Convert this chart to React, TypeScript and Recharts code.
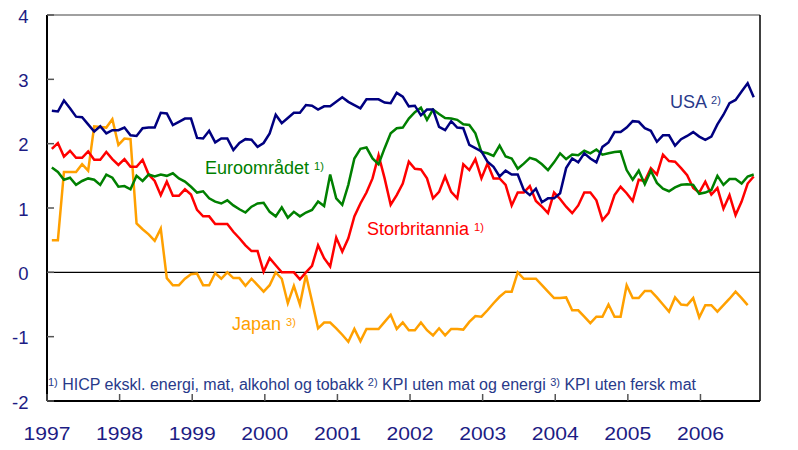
import React from 'react';
import { LineChart, Line, XAxis, YAxis, ReferenceLine } from 'recharts';

// monthly core inflation, Jan 1997 - Sep 2006 (Japan to Aug 2006)
const startYear = 1997;
const yearTicks = [1997, 1998, 1999, 2000, 2001, 2002, 2003, 2004, 2005, 2006];
const valueTicks = [-2, -1, 0, 1, 2, 3, 4];

const usa = [
  2.51, 2.5, 2.67, 2.55, 2.42, 2.41, 2.3, 2.19, 2.27, 2.16, 2.21, 2.21,
  2.25, 2.13, 2.12, 2.24, 2.25, 2.25, 2.48, 2.47, 2.29, 2.34, 2.39, 2.39,
  2.09, 2.08, 2.2, 2.02, 2.08, 2.08, 1.9, 2.01, 2.07, 2.06, 1.95, 2.01,
  2.16, 2.45, 2.32, 2.4, 2.48, 2.48, 2.6, 2.59, 2.53, 2.58, 2.58, 2.65,
  2.72, 2.65, 2.6, 2.55, 2.69, 2.69, 2.69, 2.64, 2.63, 2.79, 2.73, 2.58,
  2.59, 2.44, 2.53, 2.53, 2.26, 2.21, 2.35, 2.25, 2.24, 1.98, 1.93, 1.88,
  1.72, 1.64, 1.49, 1.58, 1.52, 1.52, 1.28, 1.2, 1.3, 1.09, 1.15, 1.15,
  1.23, 1.62, 1.77, 1.71, 1.85, 1.77, 1.71, 1.95, 2.02, 2.18, 2.18, 2.25,
  2.35, 2.34, 2.24, 2.2, 2.03, 2.13, 2.13, 1.97, 2.07, 2.12, 2.18, 2.11,
  2.06, 2.11, 2.3, 2.45, 2.63, 2.68, 2.81, 2.94, 2.72,
];

const euro = [
  1.63, 1.56, 1.44, 1.47, 1.36, 1.42, 1.46, 1.44, 1.36, 1.52, 1.47, 1.33,
  1.34, 1.29, 1.5, 1.42, 1.52, 1.49, 1.52, 1.5, 1.54, 1.46, 1.41, 1.33,
  1.24, 1.26, 1.15, 1.1, 1.07, 1.12, 1.04, 0.98, 0.93, 1.02, 1.07, 1.08,
  0.94, 0.87, 1.01, 0.85, 0.94, 0.87, 0.93, 0.97, 1.1, 1.03, 1.52, 1.15,
  1.05, 1.36, 1.77, 1.92, 1.94, 1.77, 1.68, 1.93, 2.16, 2.24, 2.25, 2.39,
  2.49, 2.56, 2.37, 2.53, 2.46, 2.4, 2.39, 2.37, 2.3, 2.29, 2.16, 1.87,
  1.85, 1.81, 1.97, 1.8, 1.77, 1.61, 1.69, 1.78, 1.75, 1.68, 1.59, 1.71,
  1.85, 1.76, 1.83, 1.82, 1.89, 1.85, 1.91, 1.83, 1.85, 1.87, 1.88, 1.59,
  1.44, 1.58, 1.37, 1.58, 1.39, 1.3, 1.26, 1.32, 1.36, 1.37, 1.36, 1.22,
  1.24, 1.28, 1.5, 1.36, 1.45, 1.45, 1.38, 1.49, 1.52,
];

const uk = [
  1.92, 2.01, 1.8, 1.89, 1.78, 1.78, 1.88, 1.75, 1.75, 1.87, 1.76, 1.67,
  1.76, 1.64, 1.64, 1.75, 1.52, 1.42, 1.2, 1.41, 1.19, 1.19, 1.29, 1.21,
  0.97, 0.87, 0.87, 0.75, 0.75, 0.75, 0.63, 0.53, 0.42, 0.33, 0.33, 0.01,
  0.22, 0.11, 0, 0, 0, -0.11, 0, 0.1, 0.42, 0.22, 0.09, 0.54,
  0.32, 0.53, 0.87, 1.07, 1.24, 1.46, 1.82, 1.46, 1.05, 1.2, 1.38, 1.72,
  1.61, 1.6, 1.46, 1.15, 1.25, 1.49, 1.25, 1.15, 1.68, 1.59, 1.76, 1.46,
  1.69, 1.46, 1.46, 1.36, 1.04, 1.24, 1.24, 1.34, 1.11, 1.02, 0.92, 1.24,
  1.14, 1.02, 0.92, 1.04, 1.24, 1.24, 1.12, 0.81, 0.92, 1.2, 1.33, 1.23,
  1.11, 1.44, 1.42, 1.62, 1.52, 1.83, 1.73, 1.72, 1.62, 1.51, 1.31, 1.24,
  1.41, 1.21, 1.31, 0.99, 1.2, 0.89, 1.1, 1.38, 1.49,
];

const japan = [
  0.5, 0.5, 1.56, 1.56, 1.56, 1.68, 1.58, 2.27, 2.26, 2.25, 2.38, 1.98,
  2.08, 2.07, 0.76, 0.67, 0.59, 0.49, 0.68, -0.09, -0.2, -0.2, -0.1, -0.03,
  -0.02, -0.2, -0.2, -0.01, -0.1, 0, -0.09, -0.09, -0.21, -0.1, -0.2, -0.3,
  -0.2, 0, -0.1, -0.48, -0.21, -0.5, -0.04, -0.45, -0.87, -0.78, -0.78, -0.87,
  -0.97, -1.08, -0.88, -1.07, -0.88, -0.88, -0.88, -0.77, -0.66, -0.88, -0.78, -0.9,
  -0.9, -0.78, -0.9, -0.98, -0.87, -0.98, -0.88, -0.88, -0.89, -0.77, -0.68, -0.69,
  -0.59, -0.48, -0.38, -0.3, -0.3, 0, -0.1, -0.1, -0.1, -0.2, -0.3, -0.4,
  -0.4, -0.39, -0.59, -0.59, -0.69, -0.79, -0.69, -0.69, -0.5, -0.69, -0.69, -0.2,
  -0.4, -0.4, -0.29, -0.29, -0.39, -0.5, -0.61, -0.39, -0.5, -0.51, -0.4, -0.7,
  -0.51, -0.51, -0.61, -0.51, -0.41, -0.3, -0.4, -0.51,
];

const data = usa.map((v, i) => ({
  x: startYear + (i + 0.8) / 12,
  usa: v,
  euro: euro[i],
  uk: uk[i],
  japan: japan[i],
}));

const axisColor = '#1c1c84';
const noteColor = '#283a8a';
const textFont = '"Liberation Sans", Arial, sans-serif';

const LeftTick = (props: any) => {
  const { x, y, payload } = props;
  return (
    <g>
      <line x1={x} x2={x + 7} y1={y} y2={y} stroke="#555" strokeWidth={1.5} />
      <text x={x - 18.5} y={y + 7.6} textAnchor="end" fontSize={18.5} fontFamily={textFont} fill={axisColor}>
        {payload.value}
      </text>
    </g>
  );
};

const RightTick = (props: any) => {
  const { x, y, payload } = props;
  return (
    <g>
      <line x1={x - 7} x2={x} y1={y} y2={y} stroke="#555" strokeWidth={1.5} />
      <text x={x + 16.5} y={y + 7.6} textAnchor="start" fontSize={18.5} fontFamily={textFont} fill={axisColor}>
        {payload.value}
      </text>
    </g>
  );
};

const BottomTick = (props: any) => {
  const { x, y, payload } = props;
  return (
    <g>
      <line x1={x} x2={x} y1={y - 7} y2={y} stroke="#555" strokeWidth={1.5} />
      <text
        x={x}
        y={y + 39}
        textAnchor="middle"
        fontSize={18.5}
        fontFamily={textFont}
        fill={axisColor}
        textLength={47}
        lengthAdjust="spacingAndGlyphs"
      >
        {payload.value}
      </text>
    </g>
  );
};

const Sup = ({ children }: { children: React.ReactNode }) => (
  <tspan fontSize={11} dy={-4}>{children}</tspan>
);

export default function App() {
  // chart starts 3px higher so the top "4" label keeps its full box inside the svg
  return (
    <div style={{ position: 'relative', width: 790, height: 445, marginTop: -3 }}>
      <LineChart width={790} height={445} data={data} margin={{ top: 10, right: 0, bottom: 0, left: 0 }}>
        <XAxis
          dataKey="x"
          type="number"
          domain={[1997, 2006.82]}
          ticks={yearTicks}
          interval={0}
          height={49}
          tickSize={0}
          tickMargin={0}
          tickLine={false}
          axisLine={{ stroke: '#000', strokeWidth: 2 }}
          tick={<BottomTick />}
          allowDataOverflow
        />
        <YAxis
          yAxisId="left"
          domain={[-2, 4]}
          ticks={valueTicks}
          interval={0}
          width={39}
          tickSize={0}
          tickMargin={0}
          tickLine={false}
          axisLine={{ stroke: '#000', strokeWidth: 2 }}
          tick={<LeftTick />}
        />
        <YAxis
          yAxisId="right"
          orientation="right"
          domain={[-2, 4]}
          ticks={valueTicks}
          interval={0}
          width={38}
          tickSize={0}
          tickMargin={0}
          tickLine={false}
          axisLine={{ stroke: '#000', strokeWidth: 1.5 }}
          tick={<RightTick />}
        />
        <ReferenceLine yAxisId="left" y={4} stroke="#808080" strokeWidth={1.5} />
        <ReferenceLine yAxisId="left" y={0} stroke="#000" strokeWidth={1.2} />
        <Line yAxisId="left" dataKey="japan" stroke="#ffa000" strokeWidth={2.5} dot={false} isAnimationActive={false} />
        <Line yAxisId="left" dataKey="uk" stroke="#ff0000" strokeWidth={2.5} dot={false} isAnimationActive={false} />
        <Line yAxisId="left" dataKey="euro" stroke="#008000" strokeWidth={2.5} dot={false} isAnimationActive={false} />
        <Line yAxisId="left" dataKey="usa" stroke="#000080" strokeWidth={2.5} dot={false} isAnimationActive={false} />
      </LineChart>
      <svg
        width={790}
        height={442}
        style={{ position: 'absolute', left: 0, top: 3, pointerEvents: 'none' }}
        fontFamily={textFont}
      >
        <text x={662} y={100} fontSize={18} fill={noteColor}>
          USA <Sup>2)</Sup>
        </text>
        <text x={197} y={166} fontSize={18} fill="#008000">
          Euroområdet <Sup>1)</Sup>
        </text>
        <text x={359} y={227} fontSize={18} fill="#ff0000">
          Storbritannia <Sup>1)</Sup>
        </text>
        <text x={224} y={322} fontSize={18} fill="#ffa000">
          Japan <Sup>3)</Sup>
        </text>
        <text x={40} y={382} fontSize={16} fill={noteColor}>
          <Sup>1)</Sup>
          <tspan dy={4}> HICP ekskl. energi, mat, alkohol og tobakk </tspan>
          <Sup>2)</Sup>
          <tspan dy={4}> KPI uten mat og energi </tspan>
          <Sup>3)</Sup>
          <tspan dy={4}> KPI uten fersk mat</tspan>
        </text>
      </svg>
    </div>
  );
}
